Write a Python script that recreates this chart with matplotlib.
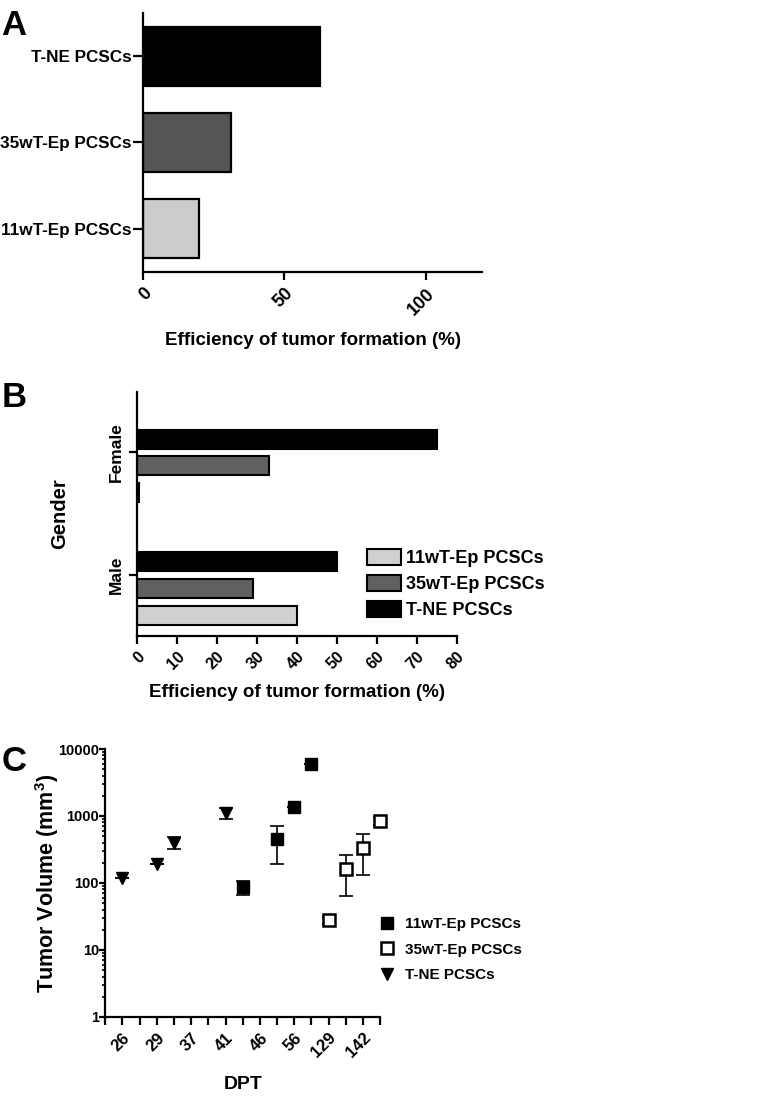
import matplotlib
matplotlib.use('Agg')
import matplotlib.pyplot as plt
from matplotlib.ticker import LogLocator, NullFormatter, FixedLocator

plt.rcParams['font.family'] = ['Liberation Sans', 'DejaVu Sans']
plt.rcParams['font.weight'] = 'bold'
plt.rcParams['axes.labelweight'] = 'bold'
plt.rcParams['mathtext.fontset'] = 'custom'
plt.rcParams['mathtext.rm'] = 'Liberation Sans:bold'
plt.rcParams['mathtext.bf'] = 'Liberation Sans:bold'
plt.rcParams['mathtext.default'] = 'bf'

# ---- data ----
# panel A
a_groups = ['11wT-Ep PCSCs', '35wT-Ep PCSCs', 'T-NE PCSCs']
a_values = [20, 31, 62.5]
a_colors = ['#cccccc', '#555555', '#000000']

# panel B
b_genders = ['Male', 'Female']
b_11wT = [40, 0.5]
b_35wT = [29, 33]
b_TNE = [50, 75]
b_series = ['11wT-Ep PCSCs', '35wT-Ep PCSCs', 'T-NE PCSCs']
b_colors = ['#d0d0d0', '#606060', '#000000']

# panel C (x = position on the DPT axis)
c_ticklabels = ['26', '29', '37', '41', '46', '56', '129', '142']
tne_x = [1, 3, 4, 7]
tne_y = [120, 195, 400, 1100]
tne_err = [0, 0, 80, 200]
w11_x = [8, 10, 11, 12]
w11_y = [87, 450, 1350, 5900]
w11_err = [21, 260, 0, 0]
w35_x = [13, 14, 15, 16]
w35_y = [28, 163, 336, 850]
w35_err = [3.5, 99, 204, 120]

fig = plt.figure(figsize=(7.68, 10.96), dpi=100)


def style(ax):
    ax.spines['top'].set_visible(False)
    ax.spines['right'].set_visible(False)
    ax.spines['left'].set_linewidth(1.6)
    ax.spines['bottom'].set_linewidth(1.6)
    ax.tick_params(width=1.6, length=6, color='black')


# ---- A ----
axA = fig.add_axes([0.186, 0.752, 0.442, 0.236])
style(axA)
axA.barh(range(len(a_groups)), a_values, height=0.69, color=a_colors,
         edgecolor='black', linewidth=1.6)
axA.set_yticks(range(len(a_groups)))
axA.set_yticklabels(a_groups, fontsize=12.3)
axA.tick_params(axis='y', length=7, pad=1)
axA.set_ylim(-0.5, 2.5)
axA.set_xlim(0, 120)
axA.set_xticks([0, 50, 100])
axA.set_xticklabels(['0', '50', '100'], fontsize=13, rotation=45, ha='right',
                    va='top', rotation_mode='anchor')
axA.set_xlabel('Efficiency of tumor formation (%)', fontsize=13.5, labelpad=10)
fig.text(0.002, 0.992, 'A', fontsize=25, fontweight='bold', va='top', ha='left')

# ---- B ----
axB = fig.add_axes([0.178, 0.4197, 0.417, 0.2226])
style(axB)
pos = range(len(b_genders))
hb = 0.155
bars = []
for vals, off, col, lab in [(b_11wT, -0.33, b_colors[0], b_series[0]),
                            (b_35wT, -0.11, b_colors[1], b_series[1]),
                            (b_TNE, 0.105, b_colors[2], b_series[2])]:
    bars.append(axB.barh([p + off for p in pos], vals, height=hb, color=col,
                         edgecolor='black', linewidth=1.5, label=lab))
axB.set_yticks(list(pos))
axB.set_yticklabels(b_genders, fontsize=12.5, rotation=90, va='center')
axB.set_ylim(-0.5, 1.49)
axB.set_xlim(0, 80)
axB.set_xticks(range(0, 81, 10))
axB.set_xticklabels([str(v) for v in range(0, 81, 10)], fontsize=11.5,
                    rotation=45, ha='right', va='top', rotation_mode='anchor')
axB.set_xlabel('Efficiency of tumor formation (%)', fontsize=13.5, labelpad=8)
axB.set_ylabel('Gender', fontsize=14.5, labelpad=28)
axB.legend(handles=bars, labels=b_series, loc='upper left',
           bbox_to_anchor=(0.478, 0.499), bbox_transform=fig.transFigure,
           frameon=False, fontsize=13,
           handlelength=1.9, handleheight=0.95, handletextpad=0.25,
           labelspacing=0.45, borderpad=0, borderaxespad=0)
fig.text(0.002, 0.652, 'B', fontsize=25, fontweight='bold', va='top', ha='left')

# ---- C ----
axC = fig.add_axes([0.137, 0.0721, 0.358, 0.2445])
style(axC)
axC.set_yscale('log')
axC.set_ylim(1, 10000)
axC.set_xlim(0, 16)
ekw = dict(fmt='none', ecolor='black', elinewidth=1.2, capsize=5, capthick=1.2,
           zorder=2, clip_on=False)
axC.errorbar(tne_x, tne_y, yerr=tne_err, **ekw)
axC.errorbar(w11_x, w11_y, yerr=w11_err, **ekw)
axC.errorbar(w35_x, w35_y, yerr=w35_err, **ekw)
p1, = axC.plot(w11_x, w11_y, 's', color='black', markersize=8, zorder=3,
               clip_on=False, label='11wT-Ep PCSCs')
p2, = axC.plot(w35_x, w35_y, 's', markerfacecolor='white', markeredgecolor='black',
               markeredgewidth=1.8, markersize=8.5, zorder=3, clip_on=False,
               label='35wT-Ep PCSCs')
p3, = axC.plot(tne_x, tne_y, 'v', color='black', markersize=8.5, zorder=3,
               clip_on=False, label='T-NE PCSCs')
axC.set_yticks([1, 10, 100, 1000, 10000])
axC.set_yticklabels(['1', '10', '100', '1000', '10000'], fontsize=10.5)
axC.tick_params(axis='y', which='major', length=4, pad=0.5)
axC.yaxis.set_minor_locator(LogLocator(base=10, subs=range(2, 10)))
axC.yaxis.set_minor_formatter(NullFormatter())
axC.tick_params(axis='y', which='minor', length=2.5, width=1.2)
axC.set_xticks(range(1, 16, 2))
axC.set_xticklabels(c_ticklabels, fontsize=12, rotation=45, ha='right',
                    va='top', rotation_mode='anchor')
axC.xaxis.set_minor_locator(FixedLocator(range(0, 17, 2)))
axC.tick_params(axis='x', which='minor', length=6, width=1.6)
axC.set_ylabel('Tumor Volume (mm$^{3}$)', fontsize=15.5, labelpad=-2)
axC.set_xlabel('DPT', fontsize=14, labelpad=11)
axC.legend(handles=[p1, p2, p3], loc='upper left', bbox_to_anchor=(0.492, 0.163),
           bbox_transform=fig.transFigure, frameon=False,
           fontsize=11, handlelength=1.2, handletextpad=0.6, labelspacing=0.75,
           borderpad=0, borderaxespad=0)
fig.text(0.002, 0.32, 'C', fontsize=25, fontweight='bold', va='top', ha='left')

fig.savefig('out.png', dpi=100)
